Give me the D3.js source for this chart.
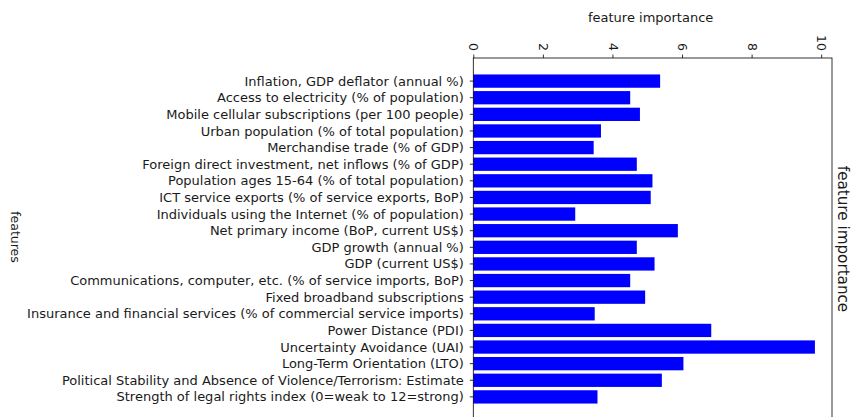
<!DOCTYPE html>
<html>
<head>
<meta charset="utf-8">
<script src="https://cdn.jsdelivr.net/npm/d3@7"></script>
<style>
  body { margin: 0; background: #fff; }
  svg text { font-family: "DejaVu Sans", sans-serif; fill: #1a1a1a; }
</style>
</head>
<body>
<svg id="chart" width="851" height="417"></svg>
<script>
const features = [
  "Inflation, GDP deflator (annual %)",
  "Access to electricity (% of population)",
  "Mobile cellular subscriptions (per 100 people)",
  "Urban population (% of total population)",
  "Merchandise trade (% of GDP)",
  "Foreign direct investment, net inflows (% of GDP)",
  "Population ages 15-64 (% of total population)",
  "ICT service exports (% of service exports, BoP)",
  "Individuals using the Internet (% of population)",
  "Net primary income (BoP, current US$)",
  "GDP growth (annual %)",
  "GDP (current US$)",
  "Communications, computer, etc. (% of service imports, BoP)",
  "Fixed broadband subscriptions",
  "Insurance and financial services (% of commercial service imports)",
  "Power Distance (PDI)",
  "Uncertainty Avoidance (UAI)",
  "Long-Term Orientation (LTO)",
  "Political Stability and Absence of Violence/Terrorism: Estimate",
  "Strength of legal rights index (0=weak to 12=strong)"
];
const importance = [5.37, 4.51, 4.79, 3.67, 3.46, 4.70, 5.15, 5.10, 2.93, 5.88,
                    4.70, 5.21, 4.51, 4.94, 3.49, 6.84, 9.82, 6.04, 5.42, 3.57];
const xTicks = [0, 2, 4, 6, 8, 10];

const svg = d3.select("#chart");
const plotL = 473.3, plotR = 832, plotT = 58, plotB = 420;

// value axis with a 5% margin past the largest bar
const x = d3.scaleLinear()
  .domain([0, d3.max(importance) * 1.05])
  .range([plotL, plotR]);

// bar band positions: 0.8 wide bars with a 5% vertical margin
const n = features.length;
const yIdx = d3.scaleLinear()
  .domain([-0.4 - 0.05 * (n - 0.2), n - 1 + 0.4 + 0.05 * (n - 0.2)])
  .range([plotT, plotB]);

// bars
svg.append("g").selectAll("rect")
  .data(importance)
  .join("rect")
  .attr("x", x(0))
  .attr("y", (d, i) => yIdx(i - 0.4))
  .attr("width", d => x(d) - x(0))
  .attr("height", (d, i) => yIdx(i + 0.4) - yIdx(i - 0.4))
  .attr("fill", "#0000ff");

// top axis with rotated tick labels
const xAxis = svg.append("g")
  .attr("transform", `translate(0,${plotT})`)
  .call(d3.axisTop(x).tickValues(xTicks).tickFormat(d3.format("d")).tickSize(3.5).tickPadding(0));
xAxis.select(".domain").remove();
xAxis.selectAll("line").attr("stroke", "#000").attr("stroke-width", 0.8);
xAxis.selectAll("text")
  .attr("font-size", 12.5)
  .attr("text-anchor", "end")
  .attr("dy", "0.35em")
  .attr("x", 0)
  .attr("y", 0)
  .attr("transform", "translate(0,-7) rotate(90)");

// category ticks and labels
const yg = svg.append("g");
features.forEach((f, i) => {
  const yy = yIdx(i);
  yg.append("line")
    .attr("x1", plotL - 3.5).attr("x2", plotL)
    .attr("y1", yy).attr("y2", yy)
    .attr("stroke", "#000").attr("stroke-width", 0.8);
  yg.append("text")
    .attr("x", plotL - 9.5)
    .attr("y", yy)
    .attr("dy", "0.35em")
    .attr("text-anchor", "end")
    .attr("font-size", 13)
    .text(f);
});

// spines
svg.append("rect")
  .attr("x", plotL).attr("y", plotT)
  .attr("width", plotR - plotL).attr("height", plotB - plotT)
  .attr("fill", "none").attr("stroke", "#000").attr("stroke-width", 0.8);

// axis titles
svg.append("text")
  .attr("x", (plotL + plotR) / 2 - 2)
  .attr("y", 22)
  .attr("text-anchor", "middle")
  .attr("font-size", 13)
  .text("feature importance");

svg.append("text")
  .attr("transform", `translate(${838},${(plotT + plotB) / 2}) rotate(90)`)
  .attr("text-anchor", "middle")
  .attr("font-size", 15.2)
  .text("feature importance");

svg.append("text")
  .attr("transform", `translate(${11},${(plotT + plotB) / 2 - 2}) rotate(90)`)
  .attr("text-anchor", "middle")
  .attr("font-size", 12.5)
  .text("features");
</script>
</body>
</html>
